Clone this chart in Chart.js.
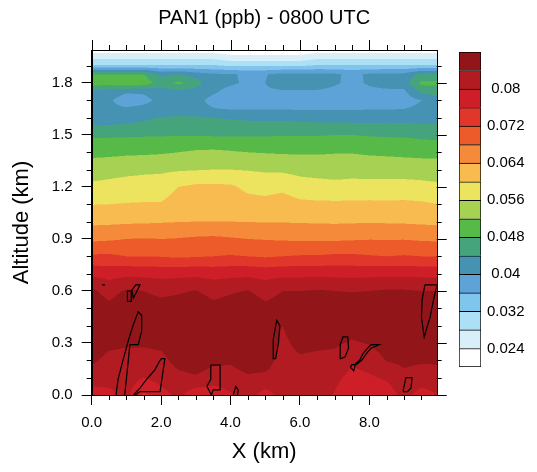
<!DOCTYPE html>
<html>
<head>
<meta charset="utf-8">
<script src="https://cdn.jsdelivr.net/npm/chart.js@4.4.1/dist/chart.umd.min.js"></script>
<style>
  html, body { margin: 0; padding: 0; background: #fff; }
  #wrap { position: relative; width: 537px; height: 472px; }
  #main { position: absolute; left: 0; top: 0; }
  #bar { position: absolute; left: 440px; top: 0; }
</style>
</head>
<body>
<div id="wrap">
  <canvas id="main" width="537" height="472"></canvas>
  <canvas id="bar" width="97" height="472"></canvas>
</div>
<script>
const FONT = "'Liberation Sans', Arial, Helvetica, sans-serif";

// grid of the field (x in km, altitude in km), values in ppb
const xs = [0, 0.5, 1, 1.5, 2, 2.5, 3, 3.5, 4, 4.5, 5, 5.5, 6, 6.5, 7, 7.5, 8, 8.5, 9, 9.5, 10];
const altitudes = [0, 0.1, 0.2, 0.3, 0.4, 0.5, 0.6, 0.7, 0.8, 0.9, 1.0, 1.1, 1.2, 1.3, 1.4, 1.5, 1.6, 1.65, 1.7, 1.75, 1.8, 1.85, 1.9, 1.95, 2.0];
// one row per altitude, bottom to top
const pan1 = [
  [0.0785, 0.0790, 0.0810, 0.0755, 0.0785, 0.0810, 0.0775, 0.0775, 0.0795, 0.0812, 0.0785, 0.0812, 0.0812, 0.0812, 0.0798, 0.0775, 0.0775, 0.0780, 0.0812, 0.0785, 0.0800],
  [0.0815, 0.0815, 0.0820, 0.0800, 0.0815, 0.0828, 0.0835, 0.0820, 0.0825, 0.0835, 0.0830, 0.0818, 0.0820, 0.0818, 0.0808, 0.0790, 0.0795, 0.0805, 0.0828, 0.0820, 0.0825],
  [0.0848, 0.0828, 0.0825, 0.0825, 0.0828, 0.0855, 0.0865, 0.0850, 0.0845, 0.0860, 0.0860, 0.0822, 0.0832, 0.0828, 0.0826, 0.0805, 0.0815, 0.0842, 0.0850, 0.0845, 0.0845],
  [0.0865, 0.0850, 0.0845, 0.0845, 0.0850, 0.0870, 0.0878, 0.0868, 0.0865, 0.0875, 0.0870, 0.0828, 0.0855, 0.0850, 0.0847, 0.0835, 0.0843, 0.0862, 0.0865, 0.0862, 0.0862],
  [0.0875, 0.0870, 0.0875, 0.0870, 0.0870, 0.0875, 0.0880, 0.0870, 0.0875, 0.0880, 0.0870, 0.0840, 0.0875, 0.0875, 0.0872, 0.0860, 0.0872, 0.0878, 0.0878, 0.0875, 0.0875],
  [0.0870, 0.0850, 0.0870, 0.0862, 0.0856, 0.0860, 0.0870, 0.0852, 0.0860, 0.0868, 0.0850, 0.0858, 0.0865, 0.0868, 0.0865, 0.0862, 0.0865, 0.0868, 0.0868, 0.0865, 0.0865],
  [0.0848, 0.0825, 0.0845, 0.0840, 0.0830, 0.0835, 0.0842, 0.0826, 0.0835, 0.0842, 0.0825, 0.0840, 0.0840, 0.0844, 0.0840, 0.0838, 0.0840, 0.0844, 0.0844, 0.0840, 0.0840],
  [0.0790, 0.0785, 0.0790, 0.0789, 0.0787, 0.0788, 0.0790, 0.0786, 0.0788, 0.0790, 0.0785, 0.0789, 0.0789, 0.0790, 0.0789, 0.0788, 0.0789, 0.0790, 0.0790, 0.0789, 0.0789],
  [0.0726, 0.0727, 0.0720, 0.0720, 0.0718, 0.0714, 0.0717, 0.0720, 0.0723, 0.0720, 0.0716, 0.0720, 0.0723, 0.0723, 0.0727, 0.0727, 0.0723, 0.0720, 0.0723, 0.0720, 0.0720],
  [0.0672, 0.0675, 0.0680, 0.0682, 0.0680, 0.0682, 0.0686, 0.0688, 0.0684, 0.0680, 0.0678, 0.0676, 0.0674, 0.0674, 0.0674, 0.0676, 0.0678, 0.0678, 0.0678, 0.0675, 0.0673],
  [0.0631, 0.0632, 0.0634, 0.0635, 0.0637, 0.0639, 0.0640, 0.0640, 0.0640, 0.0639, 0.0638, 0.0638, 0.0637, 0.0636, 0.0635, 0.0636, 0.0637, 0.0636, 0.0635, 0.0633, 0.0631],
  [0.0599, 0.0600, 0.0602, 0.0603, 0.0603, 0.0620, 0.0624, 0.0624, 0.0623, 0.0616, 0.0613, 0.0617, 0.0609, 0.0607, 0.0607, 0.0607, 0.0608, 0.0607, 0.0608, 0.0606, 0.0600],
  [0.0569, 0.0573, 0.0577, 0.0579, 0.0579, 0.0600, 0.0608, 0.0608, 0.0607, 0.0590, 0.0586, 0.0592, 0.0578, 0.0575, 0.0572, 0.0574, 0.0574, 0.0574, 0.0575, 0.0572, 0.0568],
  [0.0540, 0.0544, 0.0549, 0.0552, 0.0554, 0.0556, 0.0558, 0.0560, 0.0560, 0.0558, 0.0555, 0.0553, 0.0548, 0.0545, 0.0543, 0.0545, 0.0543, 0.0543, 0.0542, 0.0541, 0.0539],
  [0.0510, 0.0511, 0.0513, 0.0514, 0.0516, 0.0520, 0.0526, 0.0528, 0.0524, 0.0520, 0.0518, 0.0516, 0.0516, 0.0516, 0.0518, 0.0518, 0.0515, 0.0513, 0.0511, 0.0509, 0.0509],
  [0.0473, 0.0474, 0.0475, 0.0476, 0.0477, 0.0477, 0.0477, 0.0476, 0.0476, 0.0476, 0.0476, 0.0478, 0.0478, 0.0478, 0.0480, 0.0480, 0.0477, 0.0475, 0.0475, 0.0470, 0.0467],
  [0.0411, 0.0415, 0.0420, 0.0431, 0.0442, 0.0445, 0.0445, 0.0440, 0.0436, 0.0432, 0.0431, 0.0431, 0.0428, 0.0426, 0.0425, 0.0423, 0.0423, 0.0423, 0.0424, 0.0425, 0.0425],
  [0.0410, 0.0410, 0.0405, 0.0410, 0.0415, 0.0415, 0.0410, 0.0402, 0.0398, 0.0397, 0.0397, 0.0397, 0.0397, 0.0397, 0.0397, 0.0397, 0.0398, 0.0398, 0.0400, 0.0410, 0.0420],
  [0.0415, 0.0405, 0.0380, 0.0390, 0.0410, 0.0415, 0.0410, 0.0390, 0.0380, 0.0380, 0.0380, 0.0375, 0.0375, 0.0375, 0.0380, 0.0380, 0.0380, 0.0380, 0.0380, 0.0400, 0.0420],
  [0.0430, 0.0420, 0.0405, 0.0405, 0.0420, 0.0430, 0.0420, 0.0405, 0.0390, 0.0385, 0.0395, 0.0395, 0.0395, 0.0395, 0.0390, 0.0380, 0.0390, 0.0390, 0.0392, 0.0450, 0.0460],
  [0.0500, 0.0500, 0.0515, 0.0505, 0.0460, 0.0490, 0.0460, 0.0410, 0.0405, 0.0395, 0.0400, 0.0420, 0.0420, 0.0420, 0.0405, 0.0390, 0.0405, 0.0420, 0.0420, 0.0490, 0.0490],
  [0.0480, 0.0480, 0.0480, 0.0480, 0.0430, 0.0440, 0.0420, 0.0405, 0.0405, 0.0392, 0.0398, 0.0410, 0.0410, 0.0410, 0.0405, 0.0392, 0.0405, 0.0410, 0.0410, 0.0450, 0.0450],
  [0.0325, 0.0325, 0.0325, 0.0325, 0.0325, 0.0325, 0.0325, 0.0325, 0.0315, 0.0315, 0.0315, 0.0315, 0.0315, 0.0325, 0.0325, 0.0325, 0.0325, 0.0325, 0.0325, 0.0325, 0.0325],
  [0.0265, 0.0265, 0.0265, 0.0265, 0.0265, 0.0265, 0.0265, 0.0265, 0.0250, 0.0250, 0.0250, 0.0250, 0.0250, 0.0265, 0.0265, 0.0265, 0.0265, 0.0265, 0.0265, 0.0265, 0.0265],
  [0.0210, 0.0210, 0.0210, 0.0210, 0.0210, 0.0210, 0.0210, 0.0210, 0.0210, 0.0210, 0.0210, 0.0210, 0.0210, 0.0210, 0.0210, 0.0210, 0.0210, 0.0210, 0.0210, 0.0210, 0.0210]
];

// contour levels and fill colours (one more colour than levels)
const levels = [0.024, 0.028, 0.032, 0.036, 0.040, 0.044, 0.048, 0.052, 0.056, 0.060, 0.064, 0.068, 0.072, 0.076, 0.080, 0.084];
const fillColors = ['#ffffff', '#d8eef9', '#ace0f6', '#80c6ec', '#5ea3d8', '#4592b2', '#46a47c', '#56b948',
  '#a6d153', '#ece35e', '#f7bb4f', '#f58a3a', '#ee5b2b', '#e0372a', '#ce1f28', '#b11b21', '#911519'];
const barLabels = ['0.024', '0.032', '0.04', '0.048', '0.056', '0.064', '0.072', '0.08'];

// black outlines overlaid near the ground (x km, altitude km)
const cloudOutlines = [
  [[0.70, 0], [0.76, 0.09], [0.90, 0.20], [1.05, 0.31], [1.19, 0.40], [1.34, 0.48], [1.44, 0.46], [1.44, 0.37], [1.34, 0.29], [1.10, 0.29], [1.03, 0.15], [0.95, 0]],
  [[1.03, 0.54], [1.14, 0.54], [1.14, 0.60], [1.27, 0.635], [1.39, 0.635], [1.28, 0.59], [1.20, 0.56], [1.16, 0.60], [1.03, 0.60], [1.03, 0.54]],
  [[0.30, 0.635], [0.38, 0.635]],
  [[1.20, 0], [1.39, 0.04], [1.58, 0.09], [1.82, 0.145], [1.97, 0.20], [2.01, 0.21], [2.11, 0.21], [2.06, 0.145], [1.97, 0.02], [1.39, 0.02], [1.25, 0]],
  [[3.43, 0.173], [3.70, 0.173], [3.70, 0.03], [3.50, 0.03], [3.45, 0], [3.32, 0.05], [3.43, 0.09], [3.43, 0.173]],
  [[4.08, 0], [4.15, 0.05], [4.22, 0.03], [4.20, 0]],
  [[5.25, 0.21], [5.23, 0.32], [5.33, 0.43], [5.42, 0.40], [5.38, 0.30], [5.30, 0.21], [5.25, 0.21]],
  [[7.18, 0.21], [7.16, 0.29], [7.24, 0.335], [7.38, 0.335], [7.40, 0.27], [7.30, 0.22], [7.18, 0.21]],
  [[7.45, 0.16], [7.55, 0.14], [7.60, 0.18], [7.72, 0.20], [7.82, 0.24], [7.95, 0.27], [8.05, 0.29], [8.28, 0.29], [8.05, 0.27], [7.92, 0.24], [7.78, 0.20], [7.62, 0.175], [7.50, 0.175], [7.45, 0.16]],
  [[8.97, 0.02], [9.05, 0.10], [9.23, 0.10], [9.20, 0.04], [9.10, 0.02], [8.97, 0.02]],
  [[9.60, 0.635], [9.95, 0.635], [9.85, 0.55], [9.75, 0.45], [9.58, 0.335], [9.50, 0.45], [9.52, 0.55], [9.60, 0.635]]
];

function hexRgb(h) {
  return [parseInt(h.slice(1, 3), 16), parseInt(h.slice(3, 5), 16), parseInt(h.slice(5, 7), 16)];
}
const rgbColors = fillColors.map(hexRgb);

function bracket(arr, v) {
  let i = 0;
  while (i < arr.length - 2 && v > arr[i + 1]) i++;
  const t = (v - arr[i]) / (arr[i + 1] - arr[i]);
  return [i, Math.min(Math.max(t, 0), 1)];
}

function levelIndex(v) {
  let k = 0;
  while (k < levels.length && v >= levels[k]) k++;
  return k;
}

// filled contours: every pixel of the plot area goes back through the scales to the grid
const contourFill = {
  id: 'contourFill',
  beforeDatasetsDraw(chart) {
    const { ctx, chartArea: a, scales: { x, y } } = chart;
    const left = Math.round(a.left), top = Math.round(a.top);
    const w = Math.round(a.right) - left, h = Math.round(a.bottom) - top;
    const S = 2;
    const colB = [], rowB = [];
    for (let i = 0; i < w * S; i++) colB.push(bracket(xs, x.getValueForPixel(left + (i + 0.5) / S)));
    for (let j = 0; j < h * S; j++) rowB.push(bracket(altitudes, y.getValueForPixel(top + (j + 0.5) / S)));
    const off = document.createElement('canvas');
    off.width = w; off.height = h;
    const octx = off.getContext('2d');
    const img = octx.createImageData(w, h);
    for (let j = 0; j < h; j++) {
      for (let i = 0; i < w; i++) {
        let r = 0, g = 0, b = 0;
        for (let sj = 0; sj < S; sj++) {
          const [ri, rt] = rowB[j * S + sj];
          for (let si = 0; si < S; si++) {
            const [ci, ct] = colB[i * S + si];
            const v0 = pan1[ri][ci] * (1 - ct) + pan1[ri][ci + 1] * ct;
            const v1 = pan1[ri + 1][ci] * (1 - ct) + pan1[ri + 1][ci + 1] * ct;
            const c = rgbColors[levelIndex(v0 * (1 - rt) + v1 * rt)];
            r += c[0]; g += c[1]; b += c[2];
          }
        }
        const p = (j * w + i) * 4;
        img.data[p] = r / (S * S);
        img.data[p + 1] = g / (S * S);
        img.data[p + 2] = b / (S * S);
        img.data[p + 3] = 255;
      }
    }
    octx.putImageData(img, 0, 0);
    ctx.drawImage(off, left, top);
  }
};

// frame, minor ticks and mirrored ticks on top / right
const frameTicks = {
  id: 'frameTicks',
  afterDraw(chart) {
    const { ctx, chartArea: a, scales: { x, y } } = chart;
    ctx.save();
    ctx.strokeStyle = '#000';
    ctx.lineWidth = 1;
    ctx.beginPath();
    for (let k = 0; k * 0.5 <= x.max; k++) {
      const px = Math.round(x.getPixelForValue(k * 0.5)) + 0.5;
      const len = k % 4 === 0 ? 10 : 5;
      if (k % 4 !== 0) { ctx.moveTo(px, a.bottom); ctx.lineTo(px, a.bottom + 5); }
      ctx.moveTo(px, a.top); ctx.lineTo(px, a.top - len);
    }
    for (let k = 0; k * 0.1 <= y.max; k++) {
      const py = Math.round(y.getPixelForValue(k * 0.1)) + 0.5;
      const len = k % 3 === 0 ? 10 : 5;
      if (k % 3 !== 0) { ctx.moveTo(a.left, py); ctx.lineTo(a.left - 5, py); }
      ctx.moveTo(a.right, py); ctx.lineTo(a.right + len, py);
    }
    ctx.stroke();
    ctx.strokeRect(Math.round(a.left) + 0.5, Math.round(a.top) + 0.5, Math.round(a.right - a.left), Math.round(a.bottom - a.top));
    ctx.restore();
  }
};

new Chart(document.getElementById('main'), {
  type: 'scatter',
  data: {
    datasets: cloudOutlines.map(poly => ({
      data: poly.map(([px, py]) => ({ x: px, y: py })),
      showLine: true,
      borderColor: '#000',
      borderWidth: 1.2,
      pointRadius: 0,
      fill: false,
      tension: 0
    }))
  },
  options: {
    responsive: false,
    animation: false,
    layout: { padding: { left: 0, right: 100.3, top: 0, bottom: 0 } },
    plugins: {
      legend: { display: false },
      tooltip: { enabled: false },
      title: {
        display: true,
        fullSize: false,
        text: 'PAN1 (ppb) - 0800 UTC',
        color: '#000',
        font: { family: FONT, size: 20, weight: 'normal' },
        padding: { top: 6, bottom: 20 }
      }
    },
    scales: {
      x: {
        type: 'linear',
        min: 0,
        max: 9.94,
        afterFit: s => { s.height = 77; },
        ticks: {
          stepSize: 2,
          includeBounds: false,
          maxRotation: 0,
          padding: 9,
          color: '#000',
          font: { family: FONT, size: 15 },
          callback: v => v.toFixed(1)
        },
        grid: { drawOnChartArea: false, tickLength: 10, color: '#000' },
        border: { color: '#000' },
        title: { display: true, text: 'X (km)', color: '#000', font: { family: FONT, size: 22 }, padding: { top: 0, bottom: 7 } }
      },
      y: {
        type: 'linear',
        min: 0,
        max: 1.99,
        afterFit: s => { s.width = 91.7; },
        ticks: {
          stepSize: 0.3,
          includeBounds: false,
          padding: 9,
          color: '#000',
          font: { family: FONT, size: 15 },
          callback: v => v.toFixed(1)
        },
        grid: { drawOnChartArea: false, tickLength: 10, color: '#000' },
        border: { color: '#000' },
        title: { display: true, text: 'Altitude (km)', color: '#000', font: { family: FONT, size: 22 }, padding: { top: 9, bottom: 0 } }
      }
    }
  },
  plugins: [contourFill, frameTicks]
});

// colour bar: one stacked bar, one segment per colour
new Chart(document.getElementById('bar'), {
  type: 'bar',
  data: {
    labels: [''],
    datasets: fillColors.map((c, i) => ({
      data: [1],
      backgroundColor: c,
      borderColor: '#000',
      borderWidth: { top: 1, left: 1, right: 1, bottom: i === 0 ? 1 : 0 },
      borderSkipped: false,
      barPercentage: 1,
      categoryPercentage: 1
    }))
  },
  options: {
    responsive: false,
    animation: false,
    layout: { padding: { left: 19, right: 0, top: 52, bottom: 105 } },
    plugins: { legend: { display: false }, tooltip: { enabled: false } },
    scales: {
      x: { stacked: true, display: false },
      y: {
        stacked: true,
        position: 'right',
        min: 0,
        max: fillColors.length,
        afterFit: s => { s.width = 56; },
        afterBuildTicks: s => { s.ticks = barLabels.map((_, i) => ({ value: 1 + 2 * i })); },
        grid: { display: false, drawTicks: false },
        border: { display: false },
        ticks: {
          crossAlign: 'center',
          padding: 6,
          color: '#000',
          font: { family: FONT, size: 15 },
          callback: (v, i) => barLabels[i]
        }
      }
    }
  }
});
</script>
</body>
</html>
